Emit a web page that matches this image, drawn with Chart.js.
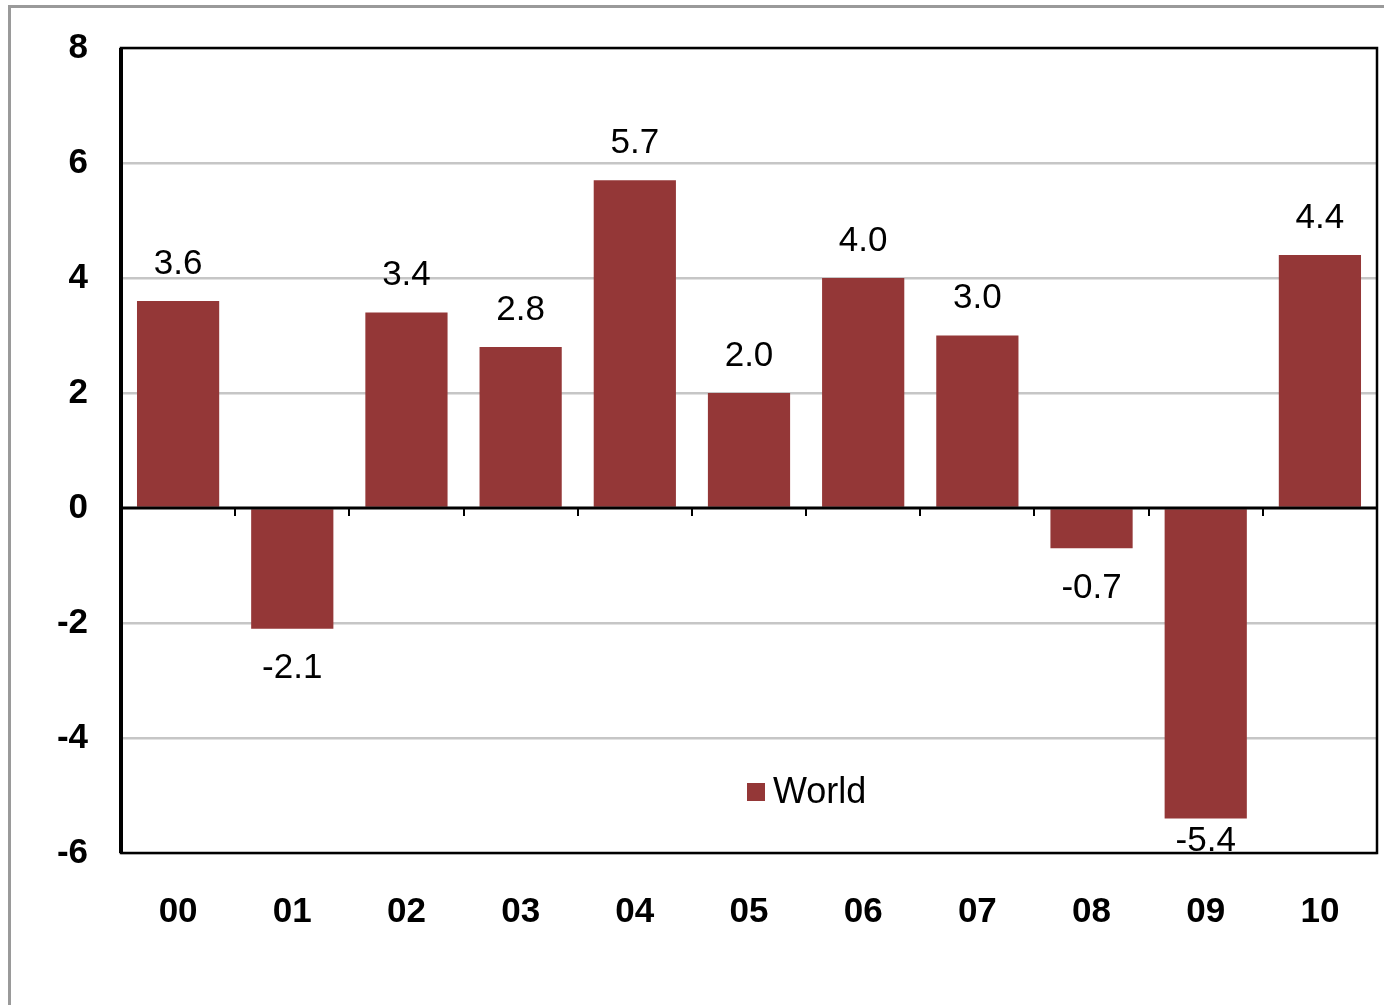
<!DOCTYPE html>
<html>
<head>
<meta charset="utf-8">
<script src="https://cdn.jsdelivr.net/npm/chart.js@4.4.1/dist/chart.umd.min.js"></script>
<style>
  html, body { margin: 0; padding: 0; background: #fff; overflow: hidden; }
  #frame { position: absolute; left: 8px; top: 5px; width: 1420px; height: 1100px;
           border: 3px solid #9a9a9a; box-sizing: border-box; }
  #wrap { position: absolute; left: 0; top: 0; width: 1384px; height: 1005px; }
</style>
</head>
<body>
<div id="frame"></div>
<div id="wrap"><canvas id="chart"></canvas></div>
<script>
const years = ['00', '01', '02', '03', '04', '05', '06', '07', '08', '09', '10'];
const world = [3.6, -2.1, 3.4, 2.8, 5.7, 2.0, 4.0, 3.0, -0.7, -5.4, 4.4];
const seriesName = 'World';
const barColor = '#943737';

// value labels above / below each bar
const valueLabels = {
  id: 'valueLabels',
  afterDatasetsDraw(chart) {
    const ctx = chart.ctx;
    const area = chart.chartArea;
    const meta = chart.getDatasetMeta(0);
    ctx.save();
    ctx.font = '35px "Liberation Sans", Arial, sans-serif';
    ctx.fillStyle = '#000';
    ctx.textAlign = 'center';
    ctx.textBaseline = 'middle';
    meta.data.forEach((bar, i) => {
      const v = world[i];
      let y = v >= 0 ? bar.y - 37 : bar.y + 40;
      y = Math.min(y, area.bottom - 12);
      ctx.fillText(v.toFixed(1), bar.x, y);
    });
    ctx.restore();
  }
};

// plot border, zero line tick marks and the legend inside the plot
const frame = {
  id: 'frame',
  afterDraw(chart) {
    const ctx = chart.ctx;
    const a = chart.chartArea;
    const xs = chart.scales.x;
    const y0 = chart.scales.y.getPixelForValue(0);
    ctx.save();
    ctx.strokeStyle = '#000';
    ctx.lineWidth = 2.5;
    ctx.strokeRect(a.left, a.top, a.right - a.left, a.bottom - a.top);
    ctx.lineWidth = 4;
    ctx.beginPath();
    ctx.moveTo(a.left, a.top);
    ctx.lineTo(a.left, a.bottom);
    ctx.stroke();
    ctx.lineWidth = 3;
    ctx.beginPath();
    ctx.moveTo(a.left, y0);
    ctx.lineTo(a.right, y0);
    ctx.stroke();
    ctx.lineWidth = 2;
    const step = (a.right - a.left) / years.length;
    for (let i = 1; i < years.length; i++) {
      const x = Math.round(xs.getPixelForValue(i) - step / 2);
      ctx.beginPath();
      ctx.moveTo(x, y0);
      ctx.lineTo(x, y0 + 8);
      ctx.stroke();
    }
    // legend
    const lx = 747, ly = 792;
    ctx.fillStyle = barColor;
    ctx.fillRect(lx, ly - 9, 18, 18);
    ctx.fillStyle = '#000';
    ctx.font = '36px "Liberation Sans", Arial, sans-serif';
    ctx.textAlign = 'left';
    ctx.textBaseline = 'middle';
    ctx.fillText(chart.data.datasets[0].label, lx + 26, ly + 1);
    ctx.restore();
  }
};

new Chart(document.getElementById('chart'), {
  type: 'bar',
  data: {
    labels: years,
    datasets: [{
      label: seriesName,
      data: world,
      backgroundColor: barColor,
      borderWidth: 0,
      barPercentage: 0.72,
      categoryPercentage: 1.0
    }]
  },
  options: {
    responsive: true,
    maintainAspectRatio: false,
    animation: false,
    layout: { padding: { left: 0, right: 7, top: 48, bottom: 0 } },
    plugins: {
      legend: { display: false },
      tooltip: { enabled: false }
    },
    scales: {
      x: {
        grid: { display: false, drawTicks: false },
        border: { display: false },
        ticks: {
          color: '#000',
          padding: 38,
          maxRotation: 0,
          font: { family: '"Liberation Sans", Arial, sans-serif', size: 35, weight: 'bold' }
        },
        afterFit(scale) { scale.height = 152; scale.paddingLeft = 0; scale.paddingRight = 0; }
      },
      y: {
        min: -6,
        max: 8,
        grid: {
          drawTicks: false,
          color: ctx => ctx.tick && ctx.tick.value === 0 ? 'rgba(0,0,0,0)' : '#c6c6c6',
          lineWidth: 2.5
        },
        border: { display: false },
        ticks: {
          stepSize: 2,
          color: '#000',
          padding: 33,
          font: { family: '"Liberation Sans", Arial, sans-serif', size: 35, weight: 'bold' }
        },
        afterFit(scale) { scale.width = 121; scale.paddingTop = 0; scale.paddingBottom = 0; }
      }
    }
  },
  plugins: [valueLabels, frame]
});
</script>
</body>
</html>
